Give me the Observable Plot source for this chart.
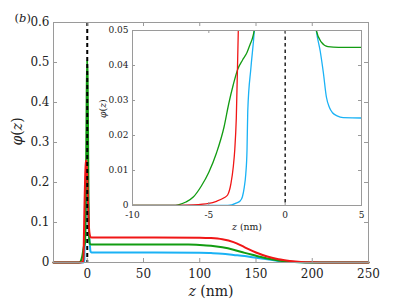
<!DOCTYPE html>
<html><head><meta charset="utf-8">
<script src="https://cdn.jsdelivr.net/npm/d3@7"></script>
<script src="https://cdn.jsdelivr.net/npm/@observablehq/plot@0.6"></script>
<style>
body{margin:0;background:white}
#wrap{position:relative;width:407px;height:305px}
#wrap svg{position:absolute;left:0;top:0}
#wrap svg, #wrap svg text, #wrap svg tspan{font-family:"DejaVu Serif",serif !important}
</style>
</head><body><div id="wrap"></div>
<script>
// ---- data ----
const redZ   = [-30, -8, -6, -5, -4.5, -4, -3.77, -3.55, -3.4, -3.3, -3.2, -3.07, -2.8, -2.4, -1.9, -1.4, -1.0, -0.6, -0.2, 0.3, 0.8, 1.3, 1.8, 2.4, 3.2, 5, 20, 60, 100, 110, 120, 130, 140, 150, 160, 170, 180, 190, 200, 215, 250];
const redPhi = [0, 0, 0.0002, 0.0006, 0.0012, 0.0022, 0.003, 0.0063, 0.011, 0.016, 0.025, 0.05, 0.09, 0.15, 0.21, 0.245, 0.255, 0.25, 0.23, 0.19, 0.14, 0.1, 0.078, 0.067, 0.063, 0.0625, 0.0625, 0.0625, 0.062, 0.061, 0.058, 0.051, 0.038, 0.025, 0.015, 0.008, 0.004, 0.0015, 0.0005, 0, 0];

const greenZ   = [-30, -8, -7.3, -7, -6.5, -6, -5.5, -5, -4.5, -4, -3.7, -3.4, -3.1, -2.8, -2.5, -2.3, -2.1, -2.0, -1.7, -1.3, -0.9, -0.5, -0.1, 0.3, 0.7, 1.1, 1.5, 2.04, 2.37, 2.8, 3.5, 5, 20, 60, 90, 100, 110, 120, 130, 140, 150, 160, 170, 180, 190, 200, 215, 250];
const greenPhi = [0, 0, 0, 0.0002, 0.001, 0.0025, 0.0055, 0.0095, 0.015, 0.0225, 0.029, 0.0345, 0.039, 0.0415, 0.0437, 0.046, 0.0485, 0.051, 0.08, 0.16, 0.28, 0.42, 0.505, 0.47, 0.33, 0.17, 0.08, 0.05, 0.0467, 0.0454, 0.0452, 0.0452, 0.0452, 0.045, 0.045, 0.044, 0.042, 0.038, 0.032, 0.024, 0.017, 0.010, 0.005, 0.002, 0.0007, 0.0002, 0, 0];

const blueZ   = [-30, -8, -4, -3.5, -3.2, -2.95, -2.8, -2.68, -2.58, -2.5, -2.45, -2.24, -2.02, -1.6, -1.1, -0.5, 0, 0.5, 1.0, 1.5, 2.04, 2.3, 2.5, 2.7, 2.9, 3.1, 3.4, 3.8, 5, 20, 60, 100, 110, 120, 130, 140, 150, 160, 170, 180, 190, 200, 215, 250];
const bluePhi = [0, 0, 0, 0.0002, 0.0007, 0.0013, 0.0025, 0.0052, 0.009, 0.0157, 0.027, 0.0395, 0.05, 0.09, 0.15, 0.19, 0.2, 0.17, 0.12, 0.08, 0.05, 0.044, 0.038, 0.031, 0.028, 0.0265, 0.0256, 0.0251, 0.025, 0.025, 0.025, 0.0245, 0.0235, 0.022, 0.019, 0.016, 0.012, 0.008, 0.004, 0.002, 0.0006, 0.0001, 0, 0];

const mainXTicks  = [0, 50, 100, 150, 200, 250];
const mainYTicks  = [0, 0.1, 0.2, 0.3, 0.4, 0.5, 0.6];
const insetXTicks = [-10, -5, 0, 5];
const insetYTicks = [0, 0.01, 0.02, 0.03, 0.04, 0.05];
const interfaceZ  = [0];

// ---- tables ----
const toRows = (zs, ps) => zs.map((z, i) => ({z, phi: ps[i]}));
const series = [
  {rows: toRows(blueZ, bluePhi),  color: "#1ab2f5"},
  {rows: toRows(greenZ, greenPhi), color: "#129c12"},
  {rows: toRows(redZ, redPhi),    color: "#f01616"}
];

const FONT = "DejaVu Serif";
const INK = "#222";
const FRAME = "#9a9a9a";

// ---- main plot ----
const mW = 315, mH = 240;
const main = Plot.plot({
  width: 407, height: 305,
  marginLeft: 53, marginRight: 39, marginTop: 22, marginBottom: 43,
  x: {domain: [-30, 250]},
  y: {domain: [0, 0.6]},
  style: {fontFamily: FONT, background: "white", color: INK, overflow: "visible"},
  marks: [
    ...series.map(s => Plot.line(s.rows, {x: "z", y: "phi", stroke: s.color, strokeWidth: 2, curve: "monotone-x"})),
    Plot.ruleX(interfaceZ, {stroke: "black", strokeWidth: 2, strokeDasharray: "4,3"}),
    Plot.frame({stroke: FRAME}),
    Plot.tickX(mainXTicks, {x: d => d, stroke: FRAME, insetTop: mH - 4}),
    Plot.tickX(mainXTicks, {x: d => d, stroke: FRAME, insetBottom: mH - 4}),
    Plot.tickY(mainYTicks, {y: d => d, stroke: FRAME, insetRight: mW - 4}),
    Plot.tickY(mainYTicks, {y: d => d, stroke: FRAME, insetLeft: mW - 4}),
    Plot.axisX({ticks: mainXTicks, tickSize: 0, tickPadding: 7, fontSize: 12, fontFamily: FONT, fill: INK, label: null, tickFormat: d => String(d)}),
    Plot.axisY({ticks: mainYTicks, tickSize: 0, tickPadding: 4, fontSize: 12, fontFamily: FONT, fill: INK, label: null, tickFormat: d => d === 0 ? "0" : d.toFixed(1)}),
    Plot.text(["z (nm)"], {frameAnchor: "bottom", dy: 33, fontSize: 14, fontFamily: FONT, fill: INK}),
    Plot.text(["φ(z)"], {frameAnchor: "left", dx: -36, dy: 3, rotate: -90, fontSize: 14, fontFamily: FONT, fill: INK}),
    Plot.text(["(b)"], {frameAnchor: "top-left", dx: -39, dy: -9, fontSize: 11.5, fontFamily: FONT, fill: INK})
  ]
});

// ---- inset ----
const iW = 229, iH = 175;
const inset = Plot.plot({
  width: 407, height: 305,
  marginLeft: 132, marginRight: 46, marginTop: 30, marginBottom: 100,
  x: {domain: [-10, 5]},
  y: {domain: [0, 0.05]},
  style: {fontFamily: FONT, background: "transparent", color: INK, overflow: "visible", pointerEvents: "none"},
  marks: [
    Plot.frame({fill: "white", stroke: null}),
    ...series.map(s => Plot.line(s.rows, {x: "z", y: "phi", stroke: s.color, strokeWidth: 1.3, curve: "monotone-x", clip: true})),
    Plot.ruleX(interfaceZ, {stroke: "black", strokeWidth: 1.3, strokeDasharray: "3.5,3"}),
    Plot.frame({stroke: FRAME}),
    Plot.tickX(insetXTicks, {x: d => d, stroke: FRAME, insetTop: iH - 3}),
    Plot.tickX(insetXTicks, {x: d => d, stroke: FRAME, insetBottom: iH - 3}),
    Plot.tickY(insetYTicks, {y: d => d, stroke: FRAME, insetRight: iW - 3}),
    Plot.tickY(insetYTicks, {y: d => d, stroke: FRAME, insetLeft: iW - 3}),
    Plot.axisX({ticks: insetXTicks, tickSize: 0, tickPadding: 6, fontSize: 9, fontFamily: FONT, fill: INK, label: null, tickFormat: d => String(d)}),
    Plot.axisY({ticks: insetYTicks, tickSize: 0, tickPadding: 4, fontSize: 9, fontFamily: FONT, fill: INK, label: null, tickFormat: d => d === 0 ? "0" : d.toFixed(2)}),
    Plot.text(["z (nm)"], {frameAnchor: "bottom", dy: 24, fontSize: 9.3, fontFamily: FONT, fill: INK}),
    Plot.text(["φ(z)"], {frameAnchor: "left", dx: -29, rotate: -90, fontSize: 9.3, fontFamily: FONT, fill: INK})
  ]
});

const wrap = document.getElementById("wrap");
wrap.appendChild(main);
wrap.appendChild(inset);

// mixed italic / upright math-style labels
const styled = {
  "z (nm)": [["z", true], [" (nm)", false]],
  "φ(z)": [["φ", true], ["(", false], ["z", true], [")", false]],
  "(b)": [["(", false], ["b", true], [")", false]]
};
d3.select(wrap).selectAll("text").each(function () {
  const parts = styled[this.textContent];
  if (!parts) return;
  const t = d3.select(this);
  t.text(null);
  for (const [s, it] of parts) t.append("tspan").attr("font-style", it ? "italic" : null).text(s);
});
</script>
</body></html>
